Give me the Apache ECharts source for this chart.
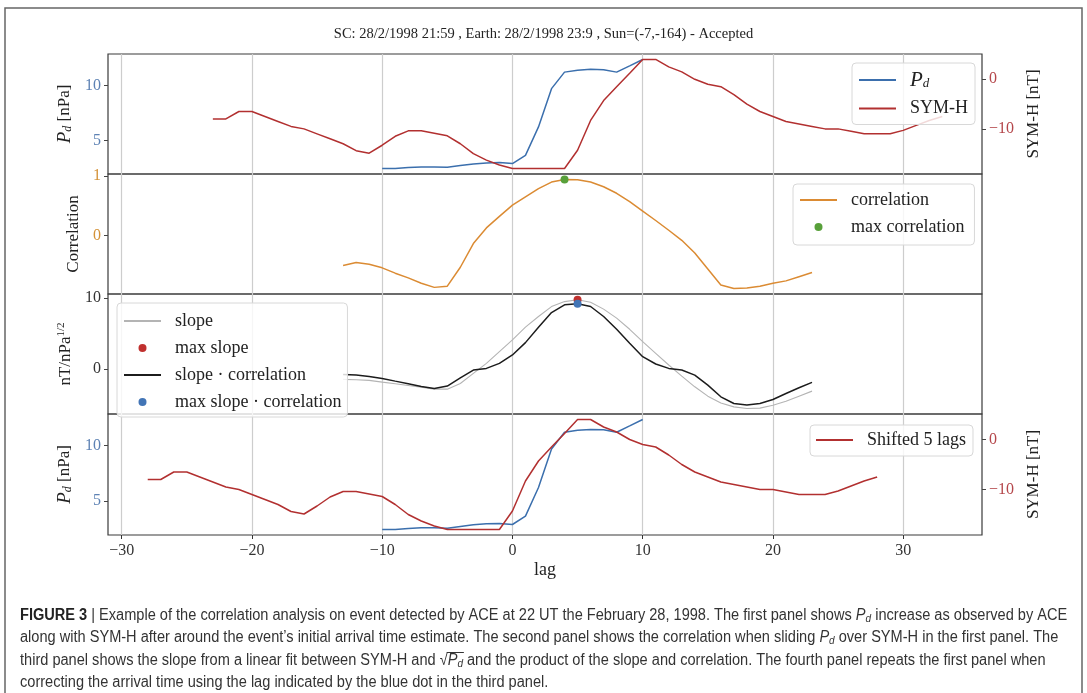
<!DOCTYPE html>
<html><head><meta charset="utf-8">
<script src="https://cdn.jsdelivr.net/npm/echarts@6/dist/echarts.min.js"></script>
<style>html,body{margin:0;padding:0;background:#fff}#c{width:1087px;height:693px}</style>
</head><body><div id="c"></div>
<script>
// ---------------- data ----------------
const xTicks = [-30, -20, -10, 0, 10, 20, 30];
const pdTicks = [5, 10];
const symTicks = [-10, 0];
const corrTicks = [0, 1];
const slopeTicks = [0, 10];

const pdLags = [-10,-9,-8,-7,-6,-5,-4,-3,-2,-1,0,1,2,3,4,5,6,7,8,9,10];
const pdValues = [2.45,2.45,2.54,2.6,2.6,2.57,2.72,2.87,2.96,3.0,2.9,3.65,6.23,9.7,11.2,11.38,11.45,11.42,11.2,11.77,12.35];

const symLags = [-23,-22,-21,-20,-19,-18,-17,-16,-15,-14,-13,-12,-11,-10,-9,-8,-7,-6,-5,-4,-3,-2,-1,0,1,2,3,4,5,6,7,8,9,10,11,12,13,14,15,16,17,18,19,20,21,22,23,24,25,26,27,28,29,30,31,32,33];
const symValues = [-8,-8,-6.5,-6.5,-7.5,-8.5,-9.5,-10,-11,-12,-13,-14.4,-14.9,-13.3,-11.5,-10.4,-10.4,-10.9,-11.4,-13,-15,-16.3,-17.3,-18,-18,-18,-18,-18,-14.3,-8.3,-4.3,-1.5,1.2,4,4,2.5,1.5,0,-1,-1.5,-3.1,-5,-6.5,-7.5,-8.5,-9,-9.5,-10,-10,-10.5,-11,-11,-11,-10.3,-9.3,-8.3,-7.5];
const shiftLags = 5;

const corrLags = [-13,-12,-11,-10,-9,-8,-7,-6,-5,-4,-3,-2,-1,0,1,2,3,4,5,6,7,8,9,10,11,12,13,14,15,16,17,18,19,20,21,22,23];
const corrValues = [-0.51,-0.46,-0.49,-0.55,-0.64,-0.72,-0.81,-0.88,-0.86,-0.54,-0.14,0.125,0.32,0.51,0.65,0.79,0.90,0.944,0.94,0.90,0.82,0.71,0.57,0.41,0.25,0.085,-0.085,-0.30,-0.57,-0.84,-0.90,-0.89,-0.86,-0.81,-0.77,-0.70,-0.63];
const slopeValues = [-1.46,-1.5,-1.6,-1.84,-2.07,-2.31,-2.55,-2.83,-2.83,-2.03,-0.61,0.8,2.45,4.1,5.9,7.4,8.8,9.5,9.75,9.4,8.44,7.17,5.6,3.86,2.22,0.57,-0.99,-2.5,-3.82,-4.77,-5.33,-5.56,-5.5,-5.09,-4.53,-3.82,-3.11];
const slopeCorrValues = [-0.75,-0.85,-1.04,-1.32,-1.70,-2.07,-2.45,-2.73,-2.40,-1.23,-0.14,0.09,0.80,1.98,3.72,5.89,7.96,9.05,9.19,8.81,7.4,5.6,3.63,1.74,0.71,0.09,-0.14,-0.85,-2.26,-3.91,-4.85,-5.05,-4.85,-4.29,-3.44,-2.64,-1.88];

const maxCorr = [4, 0.944];
const maxSlope = [5, 9.75];
const maxSlopeCorr = [5, 9.19];

const titleText = 'SC: 28/2/1998 21:59 , Earth: 28/2/1998 23:9 , Sun=(-7,-164) - Accepted';

// ---------------- styling ----------------
const SERIF = '"Liberation Serif", "DejaVu Serif", serif';
const CAPF = '"Liberation Sans", Arial, sans-serif';
const BLUE = '#3b6fad', RED = '#b23030', ORANGE = '#db8b33', GREEN = '#58a03a', GRAY = '#b4b4b4', BLACK = '#1c1c1c', DOTRED = '#c0302e', DOTBLUE = '#4275b6';
const PDLBL = '#5d82b4', SYMLBL = '#b4464a', CORRLBL = '#d49238';
const fmt = v => v < 0 ? '\u2212' + Math.abs(v) : String(v);
const pairs = (xs, ys, dx) => xs.map((x, i) => [x - (dx || 0), ys[i]]);
const LINEICON = 'path://M0,0H40V2H0Z';

const mathRich = {
  i: {fontFamily: SERIF, fontStyle: 'italic', fontSize: 19, color: '#222'},
  s: {fontFamily: SERIF, fontStyle: 'italic', fontSize: 12, color: '#222', verticalAlign: 'bottom', padding: [6, 0, 0, 0]},
  a: {fontFamily: SERIF, fontSize: 17, color: '#222'},
  sup: {fontFamily: SERIF, fontSize: 11, color: '#222', verticalAlign: 'top', padding: [0, 0, 8, 0]}
};

const tops = [54, 174, 294, 414];
const grids = tops.map((t, i) => ({left: 108, width: 874, top: t, height: i === 3 ? 121 : 120, show: true,
  borderColor: '#3a3a3a', borderWidth: 1.2, backgroundColor: 'transparent', containLabel: false}));

const xAxes = tops.map((t, i) => ({
  type: 'value', gridIndex: i, min: -31.05, max: 36.05, position: 'bottom',
  axisLine: {show: false, onZero: false},
  axisTick: {show: i === 3, customValues: xTicks, length: 4, lineStyle: {color: '#333', width: 1}},
  axisLabel: {show: i === 3, customValues: xTicks, formatter: fmt, fontFamily: SERIF, fontSize: 16, color: '#333', margin: 8},
  splitLine: {show: true, lineStyle: {color: '#cdcdcd', width: 1.2}},
  name: i === 3 ? 'lag' : '', nameLocation: 'middle', nameGap: 26,
  nameTextStyle: {fontFamily: SERIF, fontSize: 18, color: '#222'}
}));

function yAx(grid, pos, min, max, ticks, lblColor, name, gap) {
  return {
    type: 'value', gridIndex: grid, position: pos, min: min, max: max,
    axisLine: {show: false, onZero: false},
    axisTick: {show: true, customValues: ticks, length: 4, lineStyle: {color: '#444', width: 1}},
    axisLabel: {customValues: ticks, formatter: fmt, fontFamily: SERIF, fontSize: 16, color: lblColor, margin: 7},
    splitLine: {show: false},
    name: name, nameLocation: 'middle', nameRotate: 90, nameGap: gap,
    nameTextStyle: {fontFamily: SERIF, fontSize: 17, color: '#222', rich: mathRich}
  };
}
const PDNAME = '{i|P}{s|d}{a| [nPa]}';
const yAxes = [
  yAx(0, 'left', 1.955, 12.845, pdTicks, PDLBL, PDNAME, 30),
  yAx(0, 'right', -19.1, 5.1, symTicks, SYMLBL, 'SYM-H [nT]', 43),
  yAx(1, 'left', -0.992, 1.036, corrTicks, CORRLBL, 'Correlation', 23),
  yAx(2, 'left', -6.33, 10.57, slopeTicks, '#333', '{a|nT/nPa}{sup|1/2}', 27),
  yAx(3, 'left', 1.955, 12.845, pdTicks, PDLBL, PDNAME, 30),
  yAx(3, 'right', -19.1, 5.1, symTicks, SYMLBL, 'SYM-H [nT]', 43)
];

const lineS = (name, xi, yi, data, color, w) => ({name, type: 'line', xAxisIndex: xi, yAxisIndex: yi, data,
  symbol: 'none', showSymbol: false, smooth: false, lineStyle: {color, width: w}, itemStyle: {color}, animation: false, z: 3});
const dotS = (name, xi, yi, pt, color) => ({name, type: 'scatter', xAxisIndex: xi, yAxisIndex: yi, data: [pt],
  symbol: 'circle', symbolSize: 8, itemStyle: {color, opacity: 1}, animation: false, z: 4});

const series = [
  lineS('Pd', 0, 0, pairs(pdLags, pdValues), BLUE, 1.5),
  lineS('SYM-H', 0, 1, pairs(symLags, symValues), RED, 1.5),
  lineS('correlation', 1, 2, pairs(corrLags, corrValues), ORANGE, 1.5),
  dotS('max correlation', 1, 2, maxCorr, GREEN),
  lineS('slope', 2, 3, pairs(corrLags, slopeValues), GRAY, 1.1),
  dotS('max slope', 2, 3, maxSlope, DOTRED),
  lineS('slope \u00b7 correlation', 2, 3, pairs(corrLags, slopeCorrValues), BLACK, 1.5),
  dotS('max slope \u00b7 correlation', 2, 3, maxSlopeCorr, DOTBLUE),
  lineS('Pd (panel 4)', 3, 4, pairs(pdLags, pdValues), BLUE, 1.5),
  lineS('Shifted 5 lags', 3, 5, pairs(symLags, symValues, shiftLags), RED, 1.5)
];

const legRich = {
  i: {fontFamily: SERIF, fontStyle: 'italic', fontSize: 21, color: '#222', lineHeight: 20},
  s: {fontFamily: SERIF, fontStyle: 'italic', fontSize: 13, color: '#222', verticalAlign: 'bottom', lineHeight: 14, padding: [8, 0, 0, 0]}
};
const L = n => ({name: n, icon: LINEICON});
const D = n => ({name: n, icon: 'circle'});
const legBase = {orient: 'vertical', itemWidth: 37, itemHeight: 8, selectedMode: false,
  backgroundColor: 'rgba(255,255,255,0.82)', borderColor: '#d8d8d8', borderWidth: 1, borderRadius: 4,
  textStyle: {fontFamily: SERIF, fontSize: 18, color: '#222', lineHeight: 20, padding: [0, 0, 0, 9], rich: legRich},
  formatter: n => n === 'Pd' ? '{i|P}{s|d}' : n};
const legends = [
  Object.assign({}, legBase, {data: [L('Pd'), L('SYM-H')], left: 852, top: 63, padding: [6, 7, 6, 7], itemGap: 8}),
  Object.assign({}, legBase, {data: [L('correlation'), D('max correlation')], left: 793, top: 184, padding: [6, 10, 8, 7], itemGap: 7}),
  Object.assign({}, legBase, {data: [L('slope'), D('max slope'), L('slope \u00b7 correlation'), D('max slope \u00b7 correlation')], left: 117, top: 303, padding: [8, 6, 5, 7], itemGap: 7}),
  Object.assign({}, legBase, {data: [L('Shifted 5 lags')], left: 810, top: 425, padding: [5, 7, 6, 6]})
];

// caption
const CAPSIZE = 16;
const capRich = {
  b: {fontFamily: CAPF, fontSize: CAPSIZE, fontWeight: 'bold', fill: '#222'},
  n: {fontFamily: CAPF, fontSize: CAPSIZE, fill: '#333'},
  i: {fontFamily: CAPF, fontSize: CAPSIZE, fontStyle: 'italic', fill: '#333'},
  s: {fontFamily: CAPF, fontSize: 11, fontStyle: 'italic', fill: '#333', verticalAlign: 'bottom', padding: [5, 0, 0, 0]}
};
const sqrtPrefix = 'third panel shows the slope from a linear fit between SYM-H and \u221a';
const capLines = [
  '{b|FIGURE 3} {n|| Example of the correlation analysis on event detected by ACE at 22 UT the February 28, 1998. The first panel shows }{i|P}{s|d}{n| increase as observed by ACE}',
  '{n|along with SYM-H after around the event\u2019s initial arrival time estimate. The second panel shows the correlation when sliding }{i|P}{s|d}{n| over SYM-H in the first panel. The}',
  '{n|' + sqrtPrefix + '}{i|P}{s|d}{n| and the product of the slope and correlation. The fourth panel repeats the first panel when}',
  '{n|correcting the arrival time using the lag indicated by the blue dot in the third panel.}'
];
const capTops = [608, 630, 653, 675];
// fit caption line 1 into the reference text width (x 20 .. 1068)
const ctx = document.createElement('canvas').getContext('2d');
ctx.font = 'bold ' + CAPSIZE + 'px ' + CAPF;
let w1 = ctx.measureText('FIGURE 3').width;
ctx.font = CAPSIZE + 'px ' + CAPF;
w1 += ctx.measureText(' | Example of the correlation analysis on event detected by ACE at 22 UT the February 28, 1998. The first panel shows P increase as observed by ACE').width + 7;
const capScale = Math.min(1, 1048 / w1);
// overline of the square root
const wPre = ctx.measureText(sqrtPrefix).width;
ctx.font = 'italic ' + CAPSIZE + 'px ' + CAPF;
const wP = ctx.measureText('P').width;
ctx.font = 'italic 11px ' + CAPF;
const wd = ctx.measureText('d').width;
const ovX0 = 20 + (wPre - 1) * capScale, ovX1 = 20 + (wPre + wP + wd + 1) * capScale;

const graphic = [
  {type: 'polyline', shape: {points: [[5, 700], [5, 8], [1082, 8], [1082, 700]]}, style: {stroke: '#666', lineWidth: 1.5, fill: null}, silent: true},
  {type: 'line', shape: {x1: ovX0, y1: capTops[2] - 0.5, x2: ovX1, y2: capTops[2] - 0.5}, style: {stroke: '#333', lineWidth: 1}, silent: true}
].concat(capLines.map((t, k) => ({type: 'text', x: 20, y: capTops[k], scaleX: capScale, silent: true,
  style: {text: t, rich: capRich, font: CAPSIZE + 'px ' + CAPF, fill: '#333'}})));

const chart = echarts.init(document.getElementById('c'), null, {renderer: 'canvas'});
chart.setOption({
  animation: false,
  backgroundColor: '#fff',
  title: {text: titleText, left: 'center', top: 22, textStyle: {fontFamily: SERIF, fontSize: 14.5, fontWeight: 'normal', color: '#222'}},
  grid: grids, xAxis: xAxes, yAxis: yAxes, series, legend: legends, graphic
});
</script></body></html>
